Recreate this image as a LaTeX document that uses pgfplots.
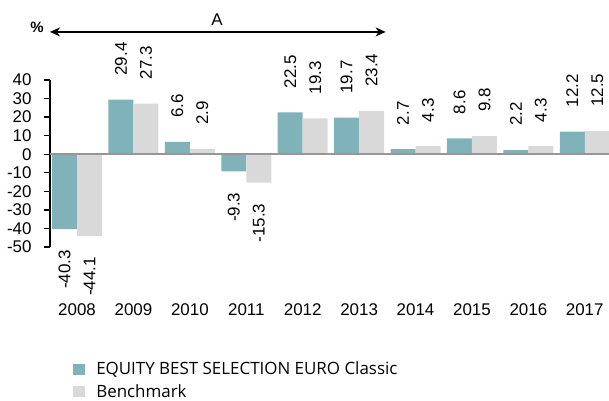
\documentclass[border=0pt]{standalone}
\usepackage{pgfplots}
\pgfplotsset{compat=1.18}
\usepackage{fontspec}
\setmainfont{Liberation Sans}
\newfontfamily\legfont{Open Sans}
\usetikzlibrary{arrows.meta}
\definecolor{teal1}{RGB}{127,179,185}
\definecolor{grey1}{RGB}{217,217,217}
\definecolor{zline}{RGB}{150,150,150}
\begin{document}
\begin{tikzpicture}
\begin{axis}[
  width=559bp, height=167bp, scale only axis,
  xmin=-0.48, xmax=9.43, ymin=-50, ymax=40,
  ybar=0pt, bar width=25bp,
  axis x line*=bottom, x axis line style={draw=none},
  axis y line*=left, y axis line style={black, line width=1.6bp},
  xtick={0,...,9}, xticklabels={2008,2009,2010,2011,2012,2013,2014,2015,2016,2017},
  major x tick style={draw=none},
  ytick={-50,-40,...,40}, yticklabels={-50,-40,-30,-20,-10,0,10,20,30,40},
  tick align=outside, major tick length=6bp,
  major y tick style={black, line width=1.4bp},
  ticklabel style={font=\fontsize{17}{20}\selectfont},
  xticklabel style={yshift=-47bp},
  yticklabel style={xshift=-9bp},
  clip=false,
  visualization depends on={rawy \as \rawy},
  nodes near coords={\pgfmathprintnumber[fixed,fixed zerofill,precision=1,assume math mode=true]{\rawy}},
  every node near coord/.append style={rotate=90, font=\fontsize{17}{20}\selectfont, inner xsep=24bp, inner ysep=0pt, text=black},
  every node near coord/.append code={\ifdim\rawy pt<0pt \pgfkeysalso{anchor=east, inner xsep=21bp}\else\pgfkeysalso{anchor=west}\fi},
  legend cell align=left,
  legend style={draw=none, fill=none, at={(axis description cs:0.036,-0.675)}, anchor=north west, font=\legfont\fontsize{17}{20}\selectfont, row sep=8bp, column sep=4bp, nodes={inner xsep=7bp, inner ysep=0bp}},
  legend image code/.code={\fill[#1] (0bp,-5.5bp) rectangle (12bp,5.5bp);},
]
\addplot[fill=teal1, draw=none] coordinates {(0,-40.3) (1,29.4) (2,6.6) (3,-9.3) (4,22.5) (5,19.7) (6,2.7) (7,8.6) (8,2.2) (9,12.2)};
\addplot[fill=grey1, draw=none] coordinates {(0,-44.1) (1,27.3) (2,2.9) (3,-15.3) (4,19.3) (5,23.4) (6,4.3) (7,9.8) (8,4.3) (9,12.5)};
\legend{EQUITY BEST SELECTION EURO Classic, Benchmark}
\draw[zline, line width=2bp] (axis cs:-0.48,0) -- (axis cs:9.43,0);
\draw[{Stealth[length=10bp,width=9bp,inset=3bp]}-{Stealth[length=10bp,width=9bp,inset=3bp]}, line width=1.3bp] (axis cs:-0.48,65.9) -- (axis cs:5.47,65.9);
\node[font=\fontsize{17}{20}\selectfont] at (axis cs:2.48,72.3) {A};
\node[font=\bfseries\fontsize{15}{18}\selectfont] at (axis cs:-0.71,68.5) {\%};
\end{axis}
\pgfresetboundingbox
\path[use as bounding box] ([shift={(-50bp,-154bp)}]current axis.south west) rectangle ++(609bp,401bp);
\end{tikzpicture}
\end{document}
